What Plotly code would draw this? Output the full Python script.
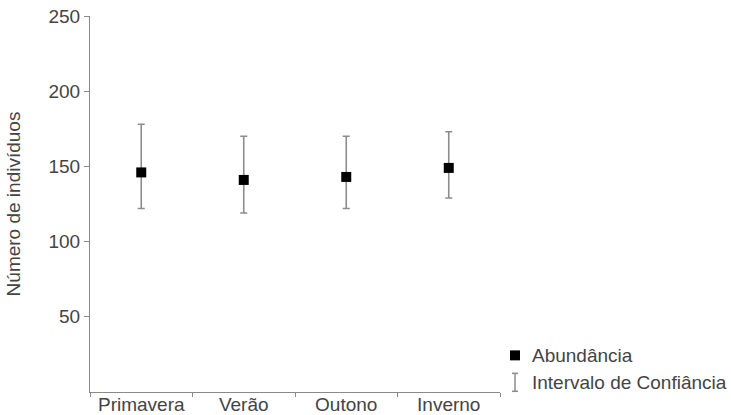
import plotly.graph_objects as go

categories = ["Primavera", "Verão", "Outono", "Inverno"]
abundance = [146, 141, 143, 149]
ci_upper = [178, 170, 170, 173]
ci_lower = [122, 119, 122, 129]
y_ticks = [50, 100, 150, 200, 250]

err_plus = [u - m for u, m in zip(ci_upper, abundance)]
err_minus = [m - l for m, l in zip(abundance, ci_lower)]

FONT = "Liberation Sans, Arial, sans-serif"
TXT = "#444444"
AX = "#8a8a8a"
FS = 19

fig = go.Figure()
fig.add_trace(go.Scatter(
    x=categories, y=abundance, mode="markers",
    marker=dict(symbol="square", size=10, color="black"),
    error_y=dict(type="data", symmetric=False, array=err_plus, arrayminus=err_minus,
                 color="#8c8c8c", thickness=1.6, width=3.5),
    showlegend=False,
))

fig.update_layout(
    width=731, height=415,
    margin=dict(l=90, r=231, t=16, b=23),
    paper_bgcolor="white", plot_bgcolor="white",
    font=dict(family=FONT, size=FS, color=TXT),
    xaxis=dict(type="category", range=[-0.5, 3.5], tickson="boundaries",
               ticks="outside", ticklen=4, tickcolor=AX, showline=True,
               linecolor=AX, linewidth=1.2, showgrid=False, zeroline=False,
               automargin=False, ticklabelstandoff=-5,
               tickfont=dict(size=FS, color=TXT)),
    yaxis=dict(range=[0, 250], tickvals=y_ticks, ticks="outside", ticklen=5,
               tickcolor=AX, showline=True, linecolor=AX, linewidth=1.2,
               showgrid=False, zeroline=False, automargin=False,
               tickfont=dict(size=FS, color=TXT),
               title=dict(text="Número de indivíduos", font=dict(size=FS, color=TXT),
                          standoff=22)),
)

# manual legend
fig.add_shape(type="rect", xref="paper", yref="paper",
              x0=(510 - 90) / 410, x1=(520 - 90) / 410,
              y0=(391.7 - 360) / 376.7, y1=(391.7 - 350) / 376.7,
              fillcolor="black", line=dict(width=0))
ibx = (515 - 90) / 410
iy0 = (391.7 - 391) / 376.7
iy1 = (391.7 - 373) / 376.7
cap = 3 / 410
fig.add_shape(type="line", xref="paper", yref="paper", x0=ibx, x1=ibx, y0=iy0, y1=iy1,
              line=dict(color="#8c8c8c", width=1.5))
for yy in (iy0, iy1):
    fig.add_shape(type="line", xref="paper", yref="paper", x0=ibx - cap, x1=ibx + cap,
                  y0=yy, y1=yy, line=dict(color="#8c8c8c", width=1.5))
fig.add_annotation(xref="paper", yref="paper", x=(530 - 90) / 410, y=(391.7 - 355) / 376.7,
                   text="Abundância", showarrow=False, xanchor="left", yanchor="middle",
                   font=dict(size=FS, color=TXT))
fig.add_annotation(xref="paper", yref="paper", x=(530 - 90) / 410, y=(391.7 - 382) / 376.7,
                   text="Intervalo de Confiância", showarrow=False, xanchor="left",
                   yanchor="middle", font=dict(size=FS, color=TXT))

fig.write_html("out.html", config={"displayModeBar": False},
               post_script="document.body.style.margin='0';")
